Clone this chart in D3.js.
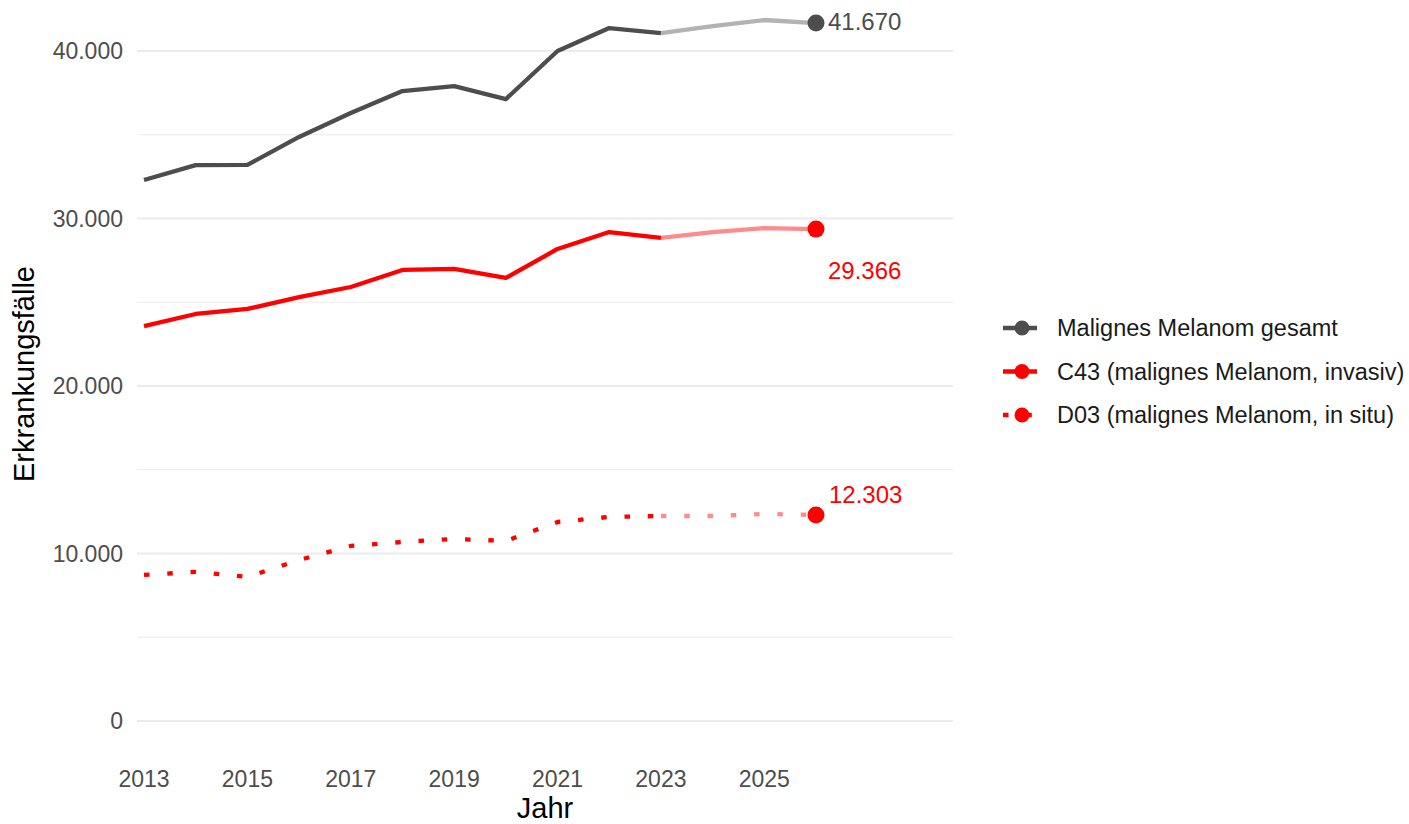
<!DOCTYPE html>
<html>
<head>
<meta charset="utf-8">
<script src="https://cdn.jsdelivr.net/npm/d3@7"></script>
<style>
  body { margin: 0; background: #fff; }
  svg { font-family: "Liberation Sans", Arial, sans-serif; }
</style>
</head>
<body>
<div id="chart"></div>
<script>
// --- Data ---
const years = [2013, 2014, 2015, 2016, 2017, 2018, 2019, 2020, 2021, 2022, 2023, 2024, 2025, 2026];
const gesamt = [32300, 33190, 33200, 34870, 36300, 37610, 37900, 37130, 40000, 41370, 41070, 41490, 41850, 41670];
const c43 = [23580, 24300, 24600, 25310, 25910, 26930, 26990, 26450, 28180, 29190, 28840, 29190, 29430, 29366];
const d03 = [8720, 8900, 8600, 9610, 10450, 10690, 10870, 10750, 11880, 12180, 12240, 12240, 12360, 12303];
const projStart = 2023;
const seriesNames = ['Malignes Melanom gesamt', 'C43 (malignes Melanom, invasiv)', 'D03 (malignes Melanom, in situ)'];
const xTicks = [2013, 2015, 2017, 2019, 2021, 2023, 2025];
const yTicks = [0, 10000, 20000, 30000, 40000];
const yMinor = [5000, 15000, 25000, 35000];

const series = [
  { name: seriesNames[0], values: gesamt, color: '#4d4d4d', light: '#b3b3b3', dash: null, labelDx: 12, labelDy: -1 },
  { name: seriesNames[1], values: c43, color: '#ff0000', light: '#ff8c8c', dash: null, labelDx: 12, labelDy: 41 },
  { name: seriesNames[2], values: d03, color: '#ff0000', light: '#ff8c8c', dash: '5.5 17.8', labelDx: 13, labelDy: -20 }
];

const W = 1409, H = 824;
const panel = { left: 137, right: 953 };

const svg = d3.select('#chart').append('svg')
  .attr('width', W).attr('height', H);

// 2013 -> 144, 2026 -> 816
const x = d3.scaleLinear().domain([2013, 2026]).range([144, 816]);
const y = d3.scaleLinear().domain([0, 40000]).range([721, 51]);

const fmt = d3.format(',');
const deFmt = v => fmt(v).replace(/,/g, '.');

// Grid
svg.append('g').selectAll('line').data(yMinor).enter().append('line')
  .attr('x1', panel.left).attr('x2', panel.right)
  .attr('y1', d => y(d)).attr('y2', d => y(d))
  .attr('stroke', '#ebebeb').attr('stroke-width', 1);
svg.append('g').selectAll('line').data(yTicks).enter().append('line')
  .attr('x1', panel.left).attr('x2', panel.right)
  .attr('y1', d => y(d)).attr('y2', d => y(d))
  .attr('stroke', '#ebebeb').attr('stroke-width', 2);

// Axis labels
svg.append('g').selectAll('text').data(yTicks).enter().append('text')
  .attr('x', 123).attr('y', d => y(d)).attr('dy', '0.35em')
  .attr('text-anchor', 'end').attr('fill', '#4d4d4d').style('font-size', '23px')
  .text(deFmt);
svg.append('g').selectAll('text').data(xTicks).enter().append('text')
  .attr('x', d => x(d)).attr('y', 779).attr('dy', '0.35em')
  .attr('text-anchor', 'middle').attr('fill', '#4d4d4d').style('font-size', '23px')
  .text(d => d);

svg.append('text').attr('x', 545).attr('y', 808).attr('dy', '0.35em')
  .attr('text-anchor', 'middle').style('font-size', '29px').text('Jahr');
svg.append('text').attr('transform', 'translate(24,374) rotate(-90)').attr('dy', '0.35em')
  .attr('text-anchor', 'middle').style('font-size', '29px').text('Erkrankungsfälle');

// Lines
const line = d3.line().x(d => x(d.year)).y(d => y(d.value));

series.forEach(s => {
  const pts = years.map((yr, i) => ({ year: yr, value: s.values[i] }));
  const obs = pts.filter(p => p.year <= projStart);
  const proj = pts.filter(p => p.year >= projStart);
  [[proj, s.light], [obs, s.color]].forEach(([data, col]) => {
    svg.append('path').datum(data)
      .attr('d', line)
      .attr('fill', 'none')
      .attr('stroke', col)
      .attr('stroke-width', 4.3)
      .attr('stroke-dasharray', s.dash)
      .attr('stroke-linejoin', 'round');
  });
  const last = pts[pts.length - 1];
  svg.append('circle').attr('cx', x(last.year)).attr('cy', y(last.value))
    .attr('r', 8.5).attr('fill', s.color);
  svg.append('text')
    .attr('x', x(last.year) + s.labelDx).attr('y', y(last.value) + s.labelDy).attr('dy', '0.35em')
    .attr('fill', s.color).style('font-size', '24px')
    .text(deFmt(last.value));
});

// Legend
const legend = svg.append('g').attr('transform', 'translate(1003,328)');
series.forEach((s, i) => {
  const g = legend.append('g').attr('transform', `translate(0,${i * 43.5})`);
  g.append('line').attr('x1', 0).attr('x2', 34).attr('y1', 0).attr('y2', 0)
    .attr('stroke', s.color).attr('stroke-width', 4.5)
    .attr('stroke-dasharray', s.dash);
  g.append('circle').attr('cx', 19).attr('cy', 0).attr('r', 7.5).attr('fill', s.color);
  g.append('text').attr('x', 54).attr('y', 0).attr('dy', '0.35em')
    .style('font-size', '23.5px').attr('fill', '#1a1a1a').text(s.name);
});
</script>
</body>
</html>
